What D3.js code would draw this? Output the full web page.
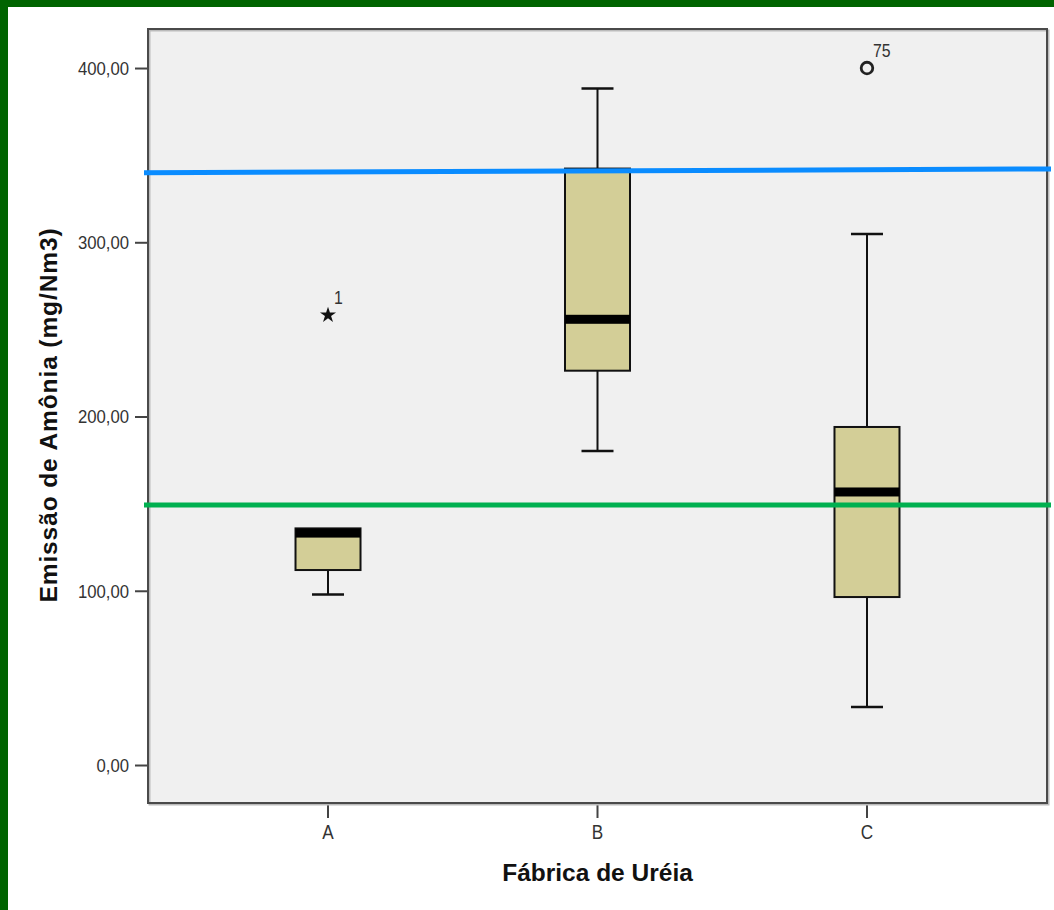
<!DOCTYPE html>
<html>
<head>
<meta charset="utf-8">
<script src="https://cdn.jsdelivr.net/npm/d3@7"></script>
<style>
  html, body { margin: 0; padding: 0; background: #fff; }
  svg { display: block; }
</style>
</head>
<body>
<svg id="chart" width="1054" height="910"></svg>
<script>
// Ammonia emission by urea plant (box plot summary)
const categories = ["A", "B", "C"];
const lowerWhisker = [97.8, 180.2, 33.3];
const q1 = [111.9, 226.3, 96.4];
const median = [133.1, 255.8, 156.7];
const q3 = [135.8, 342.3, 194.0];
const upperWhisker = [135.8, 388.3, 304.7];

// Flagged cases: extreme (star) and outlier (circle)
const outlierCategory = ["A", "C"];
const outlierValue = [258.2, 400.0];
const outlierType = ["extreme", "outlier"];
const outlierLabel = ["1", "75"];

// Reference limits drawn across the plot (value at left end, value at right end)
const refStart = [339.9, 149.2];
const refEnd = [342.1, 149.2];
const refColor = ["#0a8cff", "#00b050"];

const yTicks = [0, 100, 200, 300, 400];
const yTickLabels = ["0,00", "100,00", "200,00", "300,00", "400,00"];

const xTitle = "Fábrica de Uréia";
const yTitle = "Emissão de Amônia (mg/Nm3)";

const FONT = "Liberation Sans, Arial, sans-serif";
const NARROW = 0.88; // horizontal squeeze of the small labels

const svg = d3.select("#chart");
const W = 1054, H = 910;
const plot = { left: 148, top: 29, right: 1047, bottom: 803 };

// Frame
svg.append("rect").attr("x", 0).attr("y", 0).attr("width", W).attr("height", 7).attr("fill", "#006400");
svg.append("rect").attr("x", 0).attr("y", 0).attr("width", 8).attr("height", H).attr("fill", "#006400");

const x = d3.scalePoint().domain(categories).range([plot.left, plot.right]).padding(0.668);
const y = d3.scaleLinear().domain([-21.8, 422.4]).range([plot.bottom, plot.top]);

// Plot background
svg.append("rect")
  .attr("x", plot.left).attr("y", plot.top)
  .attr("width", plot.right - plot.left).attr("height", plot.bottom - plot.top)
  .attr("fill", "#f0f0f0");

// Axes
const yAxis = d3.axisLeft(y).tickValues(yTicks)
  .tickFormat((d, i) => yTickLabels[i]).tickSize(13).tickSizeOuter(0).tickPadding(6);
const gy = svg.append("g").attr("transform", `translate(${plot.left},0)`).call(yAxis);
gy.select(".domain").remove();
gy.selectAll("line").attr("stroke", "#444").attr("stroke-width", 2);
gy.selectAll("text")
  .attr("font-family", FONT).attr("font-size", 19).attr("fill", "#333")
  .attr("x", -19 / NARROW).attr("dy", "0.34em")
  .attr("transform", `scale(${NARROW},1)`);

const xAxis = d3.axisBottom(x).tickSize(15).tickSizeOuter(0).tickPadding(8);
const gx = svg.append("g").attr("transform", `translate(0,${plot.bottom})`).call(xAxis);
gx.select(".domain").remove();
gx.selectAll("line").attr("stroke", "#444").attr("stroke-width", 2);
gx.selectAll("text")
  .attr("font-family", FONT).attr("font-size", 19.5).attr("fill", "#333")
  .attr("y", 22.5).attr("dy", "0.71em")
  .attr("transform", `scale(${NARROW},1)`);
gx.selectAll(".tick").each(function (d) {
  d3.select(this).attr("transform", `translate(${x(d)},0)`);
});

// Plot border with soft shadow
svg.append("rect")
  .attr("x", plot.left + 1.5).attr("y", plot.top + 1.5)
  .attr("width", plot.right - plot.left).attr("height", plot.bottom - plot.top)
  .attr("fill", "none").attr("stroke", "#bbb").attr("stroke-width", 2);
svg.append("rect")
  .attr("x", plot.left).attr("y", plot.top)
  .attr("width", plot.right - plot.left).attr("height", plot.bottom - plot.top)
  .attr("fill", "none").attr("stroke", "#4a4a4a").attr("stroke-width", 2);

// Boxes
const boxW = 65, capW = 32;
const boxes = categories.map((c, i) => ({
  c, lo: lowerWhisker[i], q1: q1[i], med: median[i], q3: q3[i], hi: upperWhisker[i]
}));
const g = svg.append("g");
boxes.forEach(b => {
  const cx = x(b.c);
  // whiskers
  if (b.hi > b.q3) {
    g.append("line").attr("x1", cx).attr("x2", cx).attr("y1", y(b.q3)).attr("y2", y(b.hi))
      .attr("stroke", "#111").attr("stroke-width", 2);
    g.append("line").attr("x1", cx - capW / 2).attr("x2", cx + capW / 2).attr("y1", y(b.hi)).attr("y2", y(b.hi))
      .attr("stroke", "#111").attr("stroke-width", 2.5);
  }
  if (b.lo < b.q1) {
    g.append("line").attr("x1", cx).attr("x2", cx).attr("y1", y(b.q1)).attr("y2", y(b.lo))
      .attr("stroke", "#111").attr("stroke-width", 2);
    g.append("line").attr("x1", cx - capW / 2).attr("x2", cx + capW / 2).attr("y1", y(b.lo)).attr("y2", y(b.lo))
      .attr("stroke", "#111").attr("stroke-width", 2.5);
  }
  g.append("rect")
    .attr("x", cx - boxW / 2).attr("y", y(b.q3))
    .attr("width", boxW).attr("height", y(b.q1) - y(b.q3))
    .attr("fill", "#d3ce97").attr("stroke", "#111").attr("stroke-width", 2);
  // median bar, kept inside the box
  const mh = 9;
  let my = y(b.med) - mh / 2;
  my = Math.max(my, y(b.q3));
  g.append("rect")
    .attr("x", cx - boxW / 2).attr("y", my)
    .attr("width", boxW).attr("height", mh)
    .attr("fill", "#000");
});

// Outliers
outlierCategory.forEach((c, i) => {
  const cx = x(c), cy = y(outlierValue[i]);
  if (outlierType[i] === "extreme") {
    g.append("path")
      .attr("d", d3.symbol(d3.symbolStar, 80)())
      .attr("transform", `translate(${cx},${cy})`)
      .attr("fill", "#111");
  } else {
    g.append("circle").attr("cx", cx).attr("cy", cy).attr("r", 5.8)
      .attr("fill", "none").attr("stroke", "#222").attr("stroke-width", 2.8);
  }
  g.append("text")
    .attr("transform", `translate(${cx + 6},${cy - 11}) scale(${NARROW},1)`)
    .attr("font-family", FONT)
    .attr("font-size", 18).attr("fill", "#333")
    .text(outlierLabel[i]);
});

// Reference lines
refStart.forEach((v, i) => {
  svg.append("line")
    .attr("x1", plot.left - 4).attr("x2", plot.right + 4)
    .attr("y1", y(v)).attr("y2", y(refEnd[i]))
    .attr("stroke", refColor[i]).attr("stroke-width", 5);
});

// Axis titles
svg.append("text")
  .attr("x", (plot.left + plot.right) / 2).attr("y", 881)
  .attr("text-anchor", "middle")
  .attr("font-family", FONT)
  .attr("font-weight", "bold").attr("font-size", 24.5).attr("fill", "#111")
  .text(xTitle);
svg.append("text")
  .attr("transform", `translate(57,${(plot.top + plot.bottom) / 2 - 1}) rotate(-90)`)
  .attr("text-anchor", "middle")
  .attr("font-family", FONT)
  .attr("font-weight", "bold").attr("font-size", 24.5).attr("fill", "#111")
  .attr("letter-spacing", 0.9)
  .text(yTitle);
</script>
</body>
</html>
